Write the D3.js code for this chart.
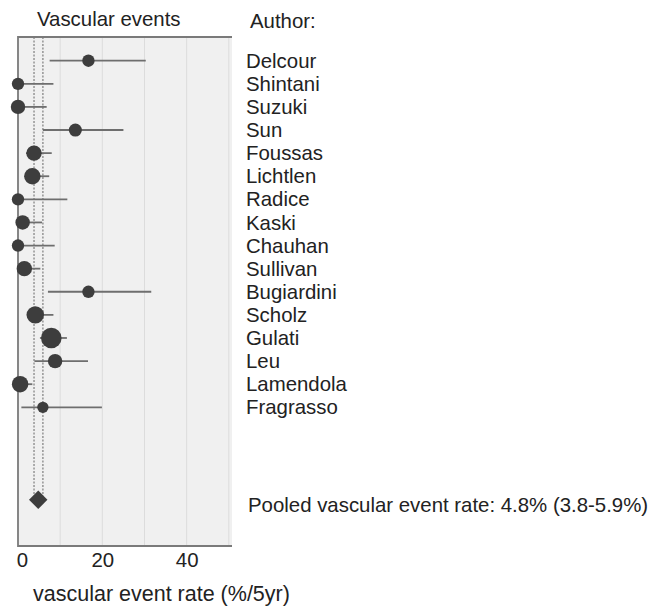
<!DOCTYPE html>
<html>
<head>
<meta charset="utf-8">
<script src="https://cdn.jsdelivr.net/npm/d3@7"></script>
<style>
  body { margin: 0; background: #fff; }
  text { font-family: "Liberation Sans", Arial, sans-serif; fill: #222; }
</style>
</head>
<body>
<svg id="chart" width="665" height="606"></svg>
<script>
// study rows, top to bottom
const authors = ['Delcour', 'Shintani', 'Suzuki', 'Sun', 'Foussas', 'Lichtlen', 'Radice', 'Kaski',
  'Chauhan', 'Sullivan', 'Bugiardini', 'Scholz', 'Gulati', 'Leu', 'Lamendola', 'Fragrasso']
const rates = [16.7, 0, 0, 13.6, 3.8, 3.4, 0, 1.1, 0, 1.5, 16.7, 4.1, 7.9, 8.8, 0.5, 5.9]
const lower = [7.5, 0, 0, 5.9, 1.9, 1.7, 0, 0, 0, 0, 7.1, 2.1, 5.2, 3.9, 0, 0.8]
const upper = [30.3, 8.4, 6.8, 25.0, 8.0, 7.4, 11.7, 5.7, 8.7, 5.3, 31.6, 8.4, 11.6, 16.6, 3.4, 19.9]
const weights = [36, 36, 49, 40, 56, 64, 36, 49, 36, 56, 36, 72, 100, 49, 64, 30]

const pooled = { rate: 4.8, lo: 3.8, hi: 5.9 }
const xTicks = [0, 20, 40]
const gridTicks = [10, 20, 30, 40, 50]

const svg = d3.select('#chart')
const margin = { top: 37, left: 18, right: 232, bottom: 546 }
const fs = 20.4

const x = d3.scaleLinear().domain([0, 50.75]).range([margin.left, margin.right])
// row index -> y, pooled sits at row 19
const y = d3.scaleLinear().domain([0, 15]).range([60.7, 407.3])
const r = d3.scaleSqrt().domain([0, 100]).range([0, 10.3])

// plot background
svg.append('rect')
  .attr('x', margin.left).attr('y', margin.top)
  .attr('width', margin.right - margin.left)
  .attr('height', margin.bottom - margin.top)
  .attr('fill', '#f0f0f0')

// grid
svg.append('g')
  .selectAll('line')
  .data(gridTicks)
  .join('line')
  .attr('x1', d => x(d)).attr('x2', d => x(d))
  .attr('y1', margin.top).attr('y2', margin.bottom)
  .attr('stroke', '#dcdcdc')
  .attr('stroke-width', 1)

// pooled CI dashed lines
svg.append('g')
  .selectAll('line')
  .data([pooled.lo, pooled.hi])
  .join('line')
  .attr('x1', d => x(d)).attr('x2', d => x(d))
  .attr('y1', margin.top).attr('y2', y(19) - 4)
  .attr('stroke', '#9a9a9a')
  .attr('stroke-width', 1.6)
  .attr('stroke-dasharray', '2,1.5')

// frame: top, left, bottom
svg.append('path')
  .attr('d', `M${margin.right},${margin.top}H${margin.left}V${margin.bottom}H${margin.right}`)
  .attr('fill', 'none')
  .attr('stroke', '#7a7a7a')
  .attr('stroke-width', 1.8)

// x axis labels
const xAxis = svg.append('g')
  .attr('transform', `translate(0,${margin.bottom})`)
  .call(d3.axisBottom(x).tickValues(xTicks).tickSize(0).tickPadding(7))
xAxis.select('.domain').remove()
xAxis.selectAll('text')
  .attr('font-size', fs)
  .attr('fill', '#222')
  .attr('dx', d => d === 0 ? 4 : 0)
  .style('font-family', '"Liberation Sans", Arial, sans-serif')

// CI lines
const rows = authors.map((a, i) => ({ author: a, rate: rates[i], lo: lower[i], hi: upper[i], w: weights[i], i }))

svg.append('g')
  .selectAll('line')
  .data(rows)
  .join('line')
  .attr('x1', d => x(d.lo)).attr('x2', d => x(d.hi))
  .attr('y1', d => y(d.i)).attr('y2', d => y(d.i))
  .attr('stroke', '#6e6e6e')
  .attr('stroke-width', 1.8)

// points
svg.append('g')
  .selectAll('circle')
  .data(rows)
  .join('circle')
  .attr('cx', d => x(d.rate))
  .attr('cy', d => y(d.i))
  .attr('r', d => r(d.w))
  .attr('fill', '#3d3d3d')

// pooled diamond
svg.append('path')
  .attr('d', d3.symbol(d3.symbolSquare, 170)())
  .attr('transform', `translate(${x(pooled.rate)},${y(19)}) rotate(45)`)
  .attr('fill', '#3d3d3d')

// author labels
svg.append('g')
  .selectAll('text')
  .data(rows)
  .join('text')
  .attr('x', 246)
  .attr('y', d => y(d.i))
  .attr('dy', '0.35em')
  .attr('font-size', fs)
  .text(d => d.author)

svg.append('text')
  .attr('x', 250).attr('y', 28)
  .attr('font-size', fs)
  .text('Author:')

svg.append('text')
  .attr('x', 37).attr('y', 26)
  .attr('font-size', fs)
  .text('Vascular events')

svg.append('text')
  .attr('x', 248).attr('y', 512)
  .attr('font-size', fs)
  .text(`Pooled vascular event rate: ${pooled.rate}% (${pooled.lo}-${pooled.hi}%)`)

svg.append('text')
  .attr('x', 33).attr('y', 601)
  .attr('font-size', 21.5)
  .text('vascular event rate (%/5yr)')
</script>
</body>
</html>
